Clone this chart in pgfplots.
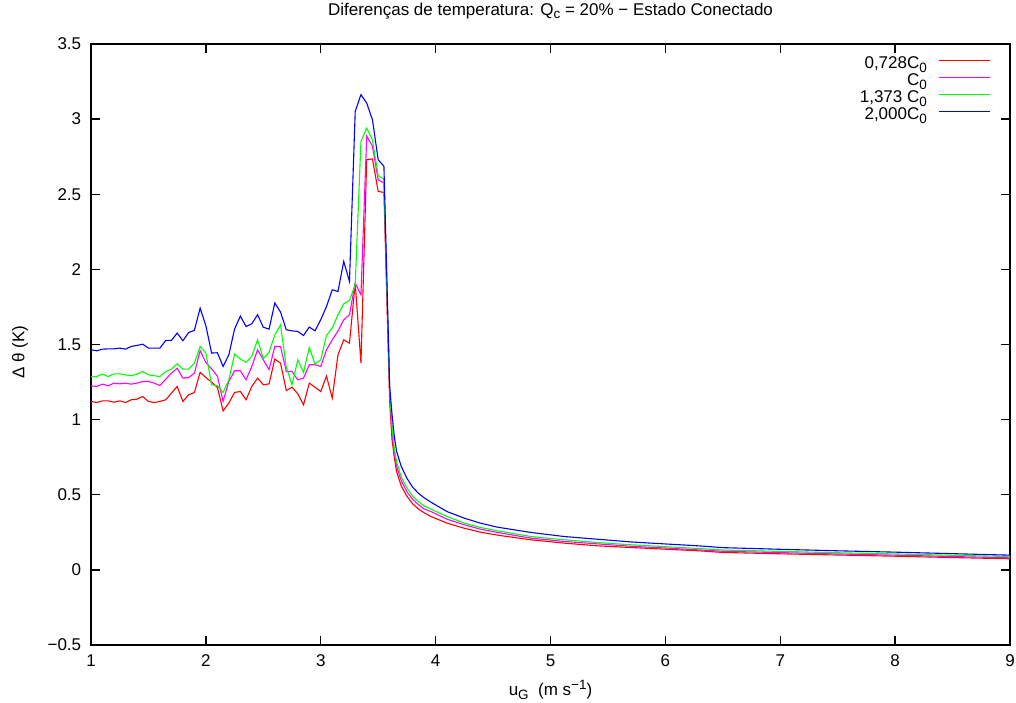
\documentclass[border=0pt]{standalone}
\usepackage{fontspec}
\setmainfont{Liberation Sans}
\usepackage{pgfplots}
\pgfplotsset{compat=1.18}
\usepackage{pgfplotstable}

\definecolor{gpred}{RGB}{255,0,0}
\definecolor{gpmag}{RGB}{255,0,255}
\definecolor{gpgreen}{RGB}{0,255,0}
\definecolor{gpblue}{RGB}{0,0,255}

\newcommand\gsub[1]{\raisebox{-3.5pt}{\fontsize{13.5}{13.5}\selectfont #1}}
\newcommand\gsup[1]{\raisebox{6pt}{\fontsize{13.5}{13.5}\selectfont #1}}

% x: u_G ; r: 0,728 C0 ; m: C0 ; g: 1,373 C0 ; b: 2,000 C0
\pgfplotstableread{
x    r     m     g     b
1.00 1.121 1.225 1.287 1.465
1.05 1.114 1.221 1.287 1.458
1.10 1.125 1.236 1.303 1.469
1.15 1.125 1.225 1.287 1.471
1.20 1.116 1.243 1.305 1.471
1.25 1.125 1.238 1.305 1.476
1.30 1.114 1.243 1.298 1.469
1.35 1.132 1.236 1.292 1.487
1.40 1.136 1.243 1.303 1.494
1.45 1.154 1.254 1.320 1.502
1.50 1.121 1.254 1.298 1.476
1.55 1.114 1.243 1.292 1.476
1.60 1.121 1.227 1.287 1.476
1.65 1.132 1.269 1.320 1.527
1.70 1.176 1.309 1.336 1.527
1.75 1.221 1.342 1.371 1.576
1.80 1.121 1.276 1.336 1.525
1.85 1.165 1.280 1.336 1.580
1.90 1.180 1.309 1.376 1.594
1.95 1.315 1.460 1.487 1.742
2.00 1.280 1.380 1.443 1.625
2.05 1.250 1.338 1.232 1.443
2.10 1.215 1.290 1.226 1.445
2.15 1.058 1.121 1.181 1.354
2.20 1.110 1.254 1.265 1.432
2.25 1.181 1.325 1.436 1.603
2.30 1.187 1.325 1.403 1.689
2.35 1.132 1.265 1.381 1.620
2.40 1.221 1.354 1.422 1.638
2.45 1.276 1.465 1.531 1.698
2.50 1.232 1.398 1.406 1.615
2.55 1.238 1.332 1.448 1.602
2.60 1.403 1.487 1.564 1.776
2.65 1.376 1.487 1.631 1.716
2.70 1.194 1.320 1.350 1.598
2.75 1.216 1.320 1.232 1.591
2.80 1.172 1.265 1.398 1.587
2.85 1.098 1.276 1.314 1.560
2.90 1.243 1.365 1.480 1.616
2.95 1.216 1.365 1.370 1.591
3.00 1.187 1.354 1.398 1.665
3.05 1.290 1.465 1.560 1.753
3.10 1.143 1.530 1.610 1.864
3.15 1.431 1.590 1.698 1.853
3.20 1.531 1.664 1.771 2.053
3.25 1.509 1.698 1.793 1.920
3.30 1.909 1.909 1.898 3.051
3.35 1.376 1.831 2.851 3.163
3.40 2.730 2.886 2.940 3.107
3.45 2.735 2.820 2.862 2.996
3.50 2.519 2.597 2.623 2.730
3.55 2.512 2.575 2.601 2.686
3.60 1.120 1.180 1.200 1.220
3.62 0.870 0.930 0.960 1.040
3.64 0.750 0.780 0.810 0.890
3.66 0.655 0.690 0.720 0.790
3.70 0.560 0.595 0.620 0.690
3.75 0.490 0.520 0.545 0.610
3.80 0.440 0.470 0.490 0.550
3.85 0.405 0.435 0.455 0.510
3.90 0.380 0.405 0.425 0.480
3.96 0.355 0.388 0.404 0.450
4.10 0.311 0.337 0.355 0.388
4.25 0.277 0.300 0.311 0.344
4.39 0.251 0.271 0.282 0.311
4.54 0.231 0.249 0.260 0.284
4.83 0.200 0.211 0.222 0.249
5.12 0.178 0.189 0.200 0.222
5.41 0.160 0.173 0.182 0.204
5.70 0.149 0.157 0.167 0.186
5.99 0.138 0.146 0.155 0.173
6.29 0.127 0.133 0.142 0.160
6.50 0.116 0.124 0.132 0.148
7.00 0.107 0.115 0.123 0.137
7.50 0.099 0.106 0.114 0.127
8.00 0.091 0.098 0.106 0.118
8.50 0.082 0.089 0.097 0.108
9.00 0.074 0.080 0.089 0.098
}\datatable

\begin{document}
\fontsize{17}{20}\selectfont
\begin{tikzpicture}
\path[use as bounding box] (-91pt,-57pt) rectangle (925pt,645pt);
\begin{axis}[
  at={(0pt,0pt)}, anchor=south west,
  scale only axis, width=919pt, height=601pt,
  xmin=1, xmax=9, ymin=-0.5, ymax=3.5,
  xtick={1,2,3,4,5,6,7,8,9},
  xticklabels={1,2,3,4,5,6,7,8,9},
  ytick={-0.5,0,0.5,1,1.5,2,2.5,3,3.5},
  yticklabels={−0.5,0,0.5,1,1.5,2,2.5,3,3.5},
  tick align=inside,
  major tick length=9pt,
  axis line style={line width=1.3pt, black},
  tick style={line width=1.3pt, black},
  ticklabel style={font=\fontsize{17}{20}\selectfont},
  xticklabel style={yshift=-4pt},
  yticklabel style={xshift=-4pt},
  title={Diferenças de temperatura: Q\gsub{c} = 20\% − Estado Conectado},
  title style={at={(0.5,1.0449)}, anchor=center, font=\fontsize{17}{20}\selectfont},
  xlabel={u\gsub{G}\ \ (m s\gsup{−1})},
  xlabel style={at={(0.5,-0.0749)}, anchor=center, font=\fontsize{17}{20}\selectfont},
  ylabel={Δ θ (K)},
  ylabel style={at={(-0.0773,0.4875)}, anchor=center, font=\fontsize{17}{20}\selectfont},
  legend style={at={(0.9793,0.979)}, anchor=north east, draw=none, fill=none,
    inner sep=0pt, outer sep=0pt, row sep=0pt, column sep=12pt,
    nodes={inner sep=0pt, text height=12pt, text depth=5pt, font=\fontsize{17}{20}\selectfont}},
  legend cell align=right,
  legend plot pos=right,
  legend image code/.code={\draw[#1, line width=1.1pt] (0pt,5pt) -- (51pt,5pt);},
]
\addplot[gpred, line width=1.1pt] table[x=x, y=r] {\datatable};
\addlegendentry{0,728C\gsub{0}}
\addplot[gpmag, line width=1.1pt] table[x=x, y=m] {\datatable};
\addlegendentry{C\gsub{0}}
\addplot[gpgreen, line width=1.1pt] table[x=x, y=g] {\datatable};
\addlegendentry{1,373 C\gsub{0}}
\addplot[gpblue, line width=1.1pt] table[x=x, y=b] {\datatable};
\addlegendentry{2,000C\gsub{0}}
\end{axis}
\end{tikzpicture}
\end{document}
